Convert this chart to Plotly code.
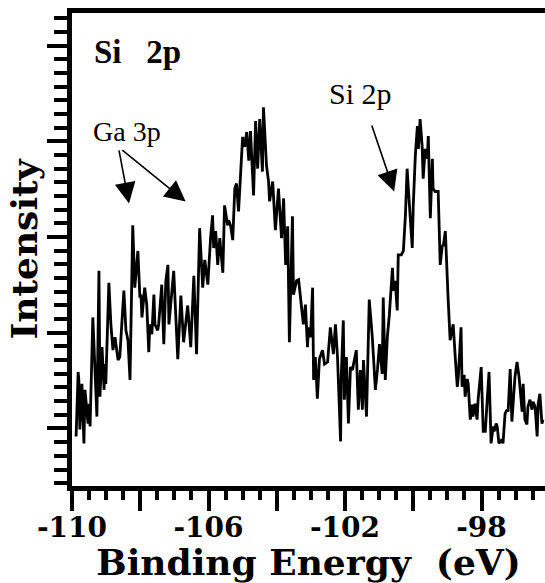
import plotly.graph_objects as go

# Binding energy (eV) and intensity (arb. units)
binding_energy = [
    -109.88, -109.82, -109.80, -109.77, -109.71, -109.65, -109.62, -109.53, -109.50, -109.47,
    -109.39, -109.33, -109.27, -109.21, -109.18, -109.12, -109.06, -109.04, -109.01, -108.92,
    -108.86, -108.80, -108.74, -108.65, -108.60, -108.48, -108.42, -108.36, -108.30, -108.22,
    -108.16, -108.07, -108.01, -107.98, -107.95, -107.87, -107.81, -107.75, -107.72, -107.66,
    -107.60, -107.57, -107.49, -107.46, -107.37, -107.31, -107.25, -107.19, -107.16, -107.02,
    -106.90, -106.81, -106.73, -106.61, -106.52, -106.43, -106.35, -106.26, -106.17, -106.11,
    -106.02, -105.94, -105.88, -105.85, -105.79, -105.73, -105.67, -105.58, -105.53, -105.44,
    -105.41, -105.35, -105.29, -105.23, -105.18, -105.12, -105.06, -105.00, -104.94, -104.88,
    -104.82, -104.77, -104.68, -104.62, -104.56, -104.50, -104.42, -104.39, -104.30, -104.24,
    -104.21, -104.12, -104.04, -103.95, -103.86, -103.80, -103.74, -103.68, -103.63, -103.54,
    -103.51, -103.42, -103.36, -103.30, -103.22, -103.16, -103.10, -103.07, -103.01, -102.95,
    -102.92, -102.87, -102.81, -102.75, -102.66, -102.60, -102.51, -102.43, -102.34, -102.28,
    -102.22, -102.13, -102.11, -102.05, -102.02, -101.96, -101.90, -101.84, -101.78, -101.75,
    -101.67, -101.61, -101.55, -101.49, -101.46, -101.37, -101.29, -101.20, -101.11, -101.05,
    -100.99, -100.91, -100.88, -100.82, -100.76, -100.70, -100.61, -100.58, -100.53, -100.47,
    -100.44, -100.35, -100.29, -100.23, -100.18, -100.12, -100.03, -100.00, -99.94, -99.88,
    -99.85, -99.80, -99.74, -99.71, -99.65, -99.59, -99.56, -99.50, -99.44, -99.42,
    -99.36, -99.27, -99.21, -99.15, -99.12, -99.06, -99.01, -98.98, -98.92, -98.83,
    -98.77, -98.71, -98.68, -98.60, -98.57, -98.51, -98.48, -98.42, -98.39, -98.33,
    -98.27, -98.25, -98.19, -98.13, -98.10, -98.01, -97.95, -97.89, -97.84, -97.78,
    -97.72, -97.66, -97.63, -97.57, -97.54, -97.49, -97.40, -97.37, -97.31, -97.25,
    -97.22, -97.16, -97.11, -97.08, -97.02, -96.96, -96.90, -96.81, -96.78, -96.73,
    -96.67, -96.64, -96.58, -96.52, -96.49, -96.43, -96.37, -96.34, -96.29, -96.23,
    -96.20,
]
intensity = [
    50, 115, 107, 57, 103, 43, 97, 63, 83, 60,
    170, 123, 70, 217, 90, 140, 97, 123, 103, 205,
    163, 137, 150, 127, 130, 197, 157, 147, 107, 263,
    200, 237, 190, 193, 170, 200, 183, 135, 163, 153,
    193, 163, 157, 163, 203, 143, 207, 223, 163, 217,
    128, 192, 145, 182, 140, 212, 133, 260, 200, 228,
    203, 250, 273, 240, 257, 223, 250, 215, 283, 263,
    268, 262, 248, 300, 305, 277, 317, 352, 342, 357,
    328, 358, 293, 368, 320, 370, 317, 382, 323, 307,
    287, 307, 258, 300, 250, 290, 223, 262, 145, 272,
    193, 207, 208, 187, 163, 183, 140, 160, 150, 200,
    107, 130, 88, 128, 137, 123, 125, 160, 133, 163,
    130, 45, 110, 167, 87, 130, 63, 120, 117, 123,
    137, 77, 117, 77, 127, 70, 188, 150, 97, 117,
    143, 113, 190, 107, 150, 173, 220, 197, 207, 177,
    233, 233, 237, 273, 320, 287, 240, 283, 333, 363,
    340, 370, 343, 310, 340, 330, 353, 270, 330, 300,
    297, 297, 223, 243, 242, 257, 200, 190, 147, 163,
    130, 100, 110, 160, 100, 112, 90, 108, 103, 67,
    82, 70, 83, 67, 87, 120, 55, 55, 83, 115,
    43, 60, 55, 63, 60, 43, 47, 43, 73, 77,
    75, 118, 65, 80, 110, 125, 110, 75, 103, 67,
    62, 80, 87, 77, 85, 80, 50, 83, 93, 63,
    67,
]

x_tick_values = [-110, -108, -106, -104, -102, -100, -98, -96]
x_tick_labels = ["-110", "", "-106", "", "-102", "", "-98", ""]

# annotation texts and arrows (tail -> tip) in data units
peak_labels = [
    dict(text="<b>Si\u00a0\u00a0\u00a02p</b>", x=-108.07, y=438, family="Liberation Serif", size=33),
    dict(text="Ga 3p", x=-108.39, y=357, family="Liberation Serif", size=28),
    dict(text="Si 2p", x=-101.55, y=396, family="Liberation Serif", size=30),
]
arrows = [
    dict(ax=-108.63, ay=340, x=-108.33, y=285),
    dict(ax=-108.57, ay=340, x=-106.67, y=287),
    dict(ax=-101.23, ay=365, x=-100.56, y=297),
]

fig = go.Figure()
fig.add_trace(go.Scatter(
    x=binding_energy, y=intensity, mode="lines",
    line=dict(color="black", width=2.8), hoverinfo="skip", showlegend=False,
))

for lab in peak_labels:
    fig.add_annotation(
        x=lab["x"], y=lab["y"], xref="x", yref="y", text=lab["text"], showarrow=False,
        xanchor="center", yanchor="middle",
        font=dict(family=lab["family"], size=lab["size"], color="black"),
    )
for a in arrows:
    fig.add_annotation(
        x=a["x"], y=a["y"], ax=a["ax"], ay=a["ay"], xref="x", yref="y", axref="x", ayref="y",
        text="", showarrow=True, arrowhead=2, arrowsize=2.6, arrowwidth=1.6,
        arrowcolor="black", standoff=0, startstandoff=0,
    )

axis_font = dict(family="DejaVu Serif", size=28, color="black", weight="bold")
title_font = dict(family="DejaVu Serif", size=36, color="black", weight="bold")

fig.update_layout(
    width=545, height=583,
    margin=dict(l=72, r=0, t=13, b=93),
    paper_bgcolor="white", plot_bgcolor="white",
    showlegend=False,
    xaxis=dict(
        range=[-110, -96.14], showgrid=False, zeroline=False,
        showline=True, linewidth=5, linecolor="black", mirror=True,
        tickmode="array", tickvals=x_tick_values, ticktext=x_tick_labels,
        ticks="outside", ticklen=20, tickwidth=4, tickcolor="black",
        tickfont=axis_font, ticklabelstandoff=-8,
        minor=dict(dtick=0.5, tick0=-110, ticks="outside", ticklen=9, tickwidth=4, tickcolor="black", showgrid=False),
        title=dict(text="Binding Energy \u00a0(eV)", font=title_font, standoff=14),
    ),
    yaxis=dict(
        range=[0, 477], showgrid=False, zeroline=False,
        showline=True, linewidth=5, linecolor="black", mirror=False,
        tickmode="linear", tick0=58, dtick=96.5, showticklabels=False,
        ticks="outside", ticklen=20, tickwidth=4, tickcolor="black",
        minor=dict(tick0=58, dtick=96.5 / 7, ticks="outside", ticklen=13, tickwidth=4, tickcolor="black", showgrid=False),
        title=dict(text="Intensity", font=title_font, standoff=0),
    ),
)

fig.write_html(
    "out.html",
    config={"displayModeBar": False},
    post_script="document.body.style.margin='0';document.body.style.padding='0';",
)
